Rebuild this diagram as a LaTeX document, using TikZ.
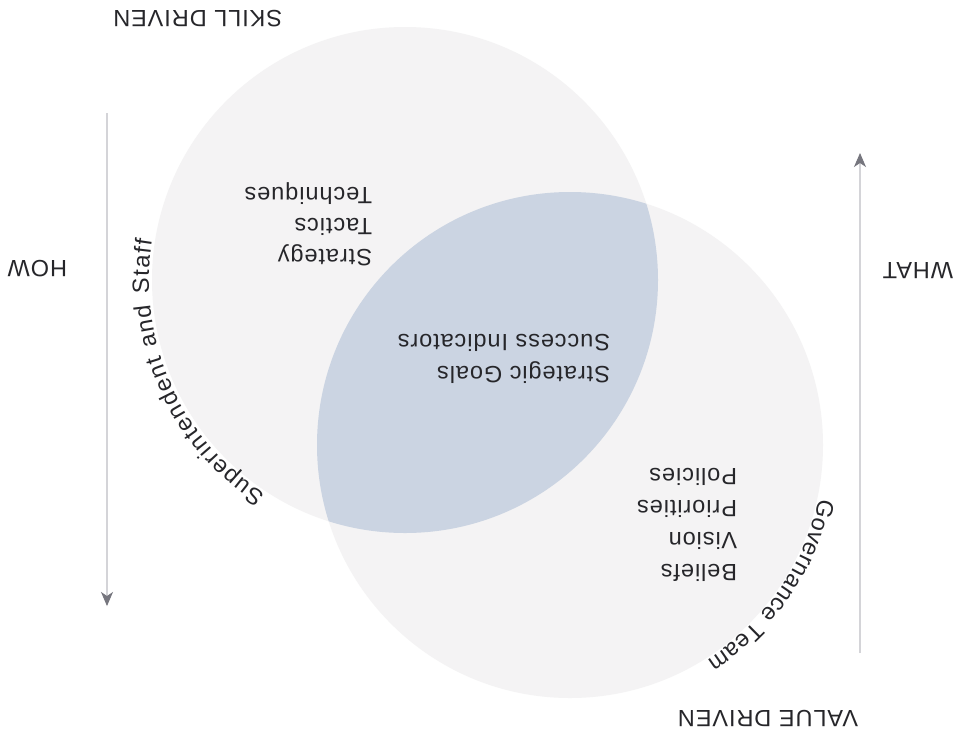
\documentclass[tikz,border=0pt]{standalone}
\usepackage{fontspec}
\setmainfont{Liberation Sans}[LetterSpace=4]
\usetikzlibrary{arrows.meta,decorations.text}
\definecolor{circlefill}{RGB}{244,243,244}
\definecolor{lensfill}{RGB}{203,212,226}
\definecolor{txt}{RGB}{38,38,42}
\definecolor{axisline}{RGB}{212,212,216}
\definecolor{tipcol}{RGB}{118,118,126}
\begin{document}
\begin{tikzpicture}[x=1pt,y=1pt,
  lbl/.style={font=\fontsize{23.5}{28}\selectfont, text=txt, inner sep=0pt, outer sep=0pt, rotate=180, anchor=base west},
  axis/.style={draw=axisline, line width=1.1pt, -{Stealth[length=14pt,width=12pt,inset=4pt,color=tipcol]}},
  arclabel/.style={decorate, decoration={text along path, text align={fit to path}, text color=txt, text={#1}}}
]
\useasboundingbox (0,0) rectangle (959,-740);
\fill[white] (0,0) rectangle (959,-740);
\coordinate (c1) at (405,-280);
\coordinate (c2) at (570,-445);
\fill[circlefill] (c1) circle[radius=253pt];
\fill[circlefill] (c2) circle[radius=253pt];
\begin{scope}
  \clip (c1) circle[radius=253pt];
  \fill[lensfill] (c2) circle[radius=253pt];
\end{scope}
% axes
\coordinate (howtop) at (107,-113);
\coordinate (howtip) at (107,-606);
\draw[axis] (howtop) -- (howtip);
\coordinate (whatbot) at (860,-653);
\coordinate (whattip) at (860,-153);
\draw[axis] (whatbot) -- (whattip);
% outer labels
\node[lbl] (skill) at (282,-10) {SKILL DRIVEN};
\node[lbl] (value) at (858,-710) {VALUE DRIVEN};
\node[lbl] (how) at (67,-260) {HOW};
\node[lbl] (what) at (953,-262) {WHAT};
% inner labels
\node[lbl] (tech) at (372,-187) {Techniques};
\node[lbl] (tact) at (372,-218) {Tactics};
\node[lbl] (strat) at (372,-249) {Strategy};
\node[lbl] (succ) at (610,-334) {Success Indicators};
\node[lbl] (goals) at (610,-366) {Strategic Goals};
\node[lbl] (pol) at (737,-468) {Policies};
\node[lbl] (prio) at (737,-500) {Priorities};
\node[lbl] (vis) at (737,-532) {Vision};
\node[lbl] (bel) at (737,-564) {Beliefs};
% curved labels
\path[arclabel={|\fontsize{23.5}{28}\selectfont|Superintendent and Staff}]
  ([shift={(237:256pt)}]c1) arc[start angle=237, end angle=171, radius=256pt];
\path[arclabel={|\fontsize{23.5}{28}\selectfont|Governance Team}]
  ([shift={(-12:255pt)}]c2) arc[start angle=-12, end angle=-57.5, radius=255pt];
\end{tikzpicture}
\end{document}
